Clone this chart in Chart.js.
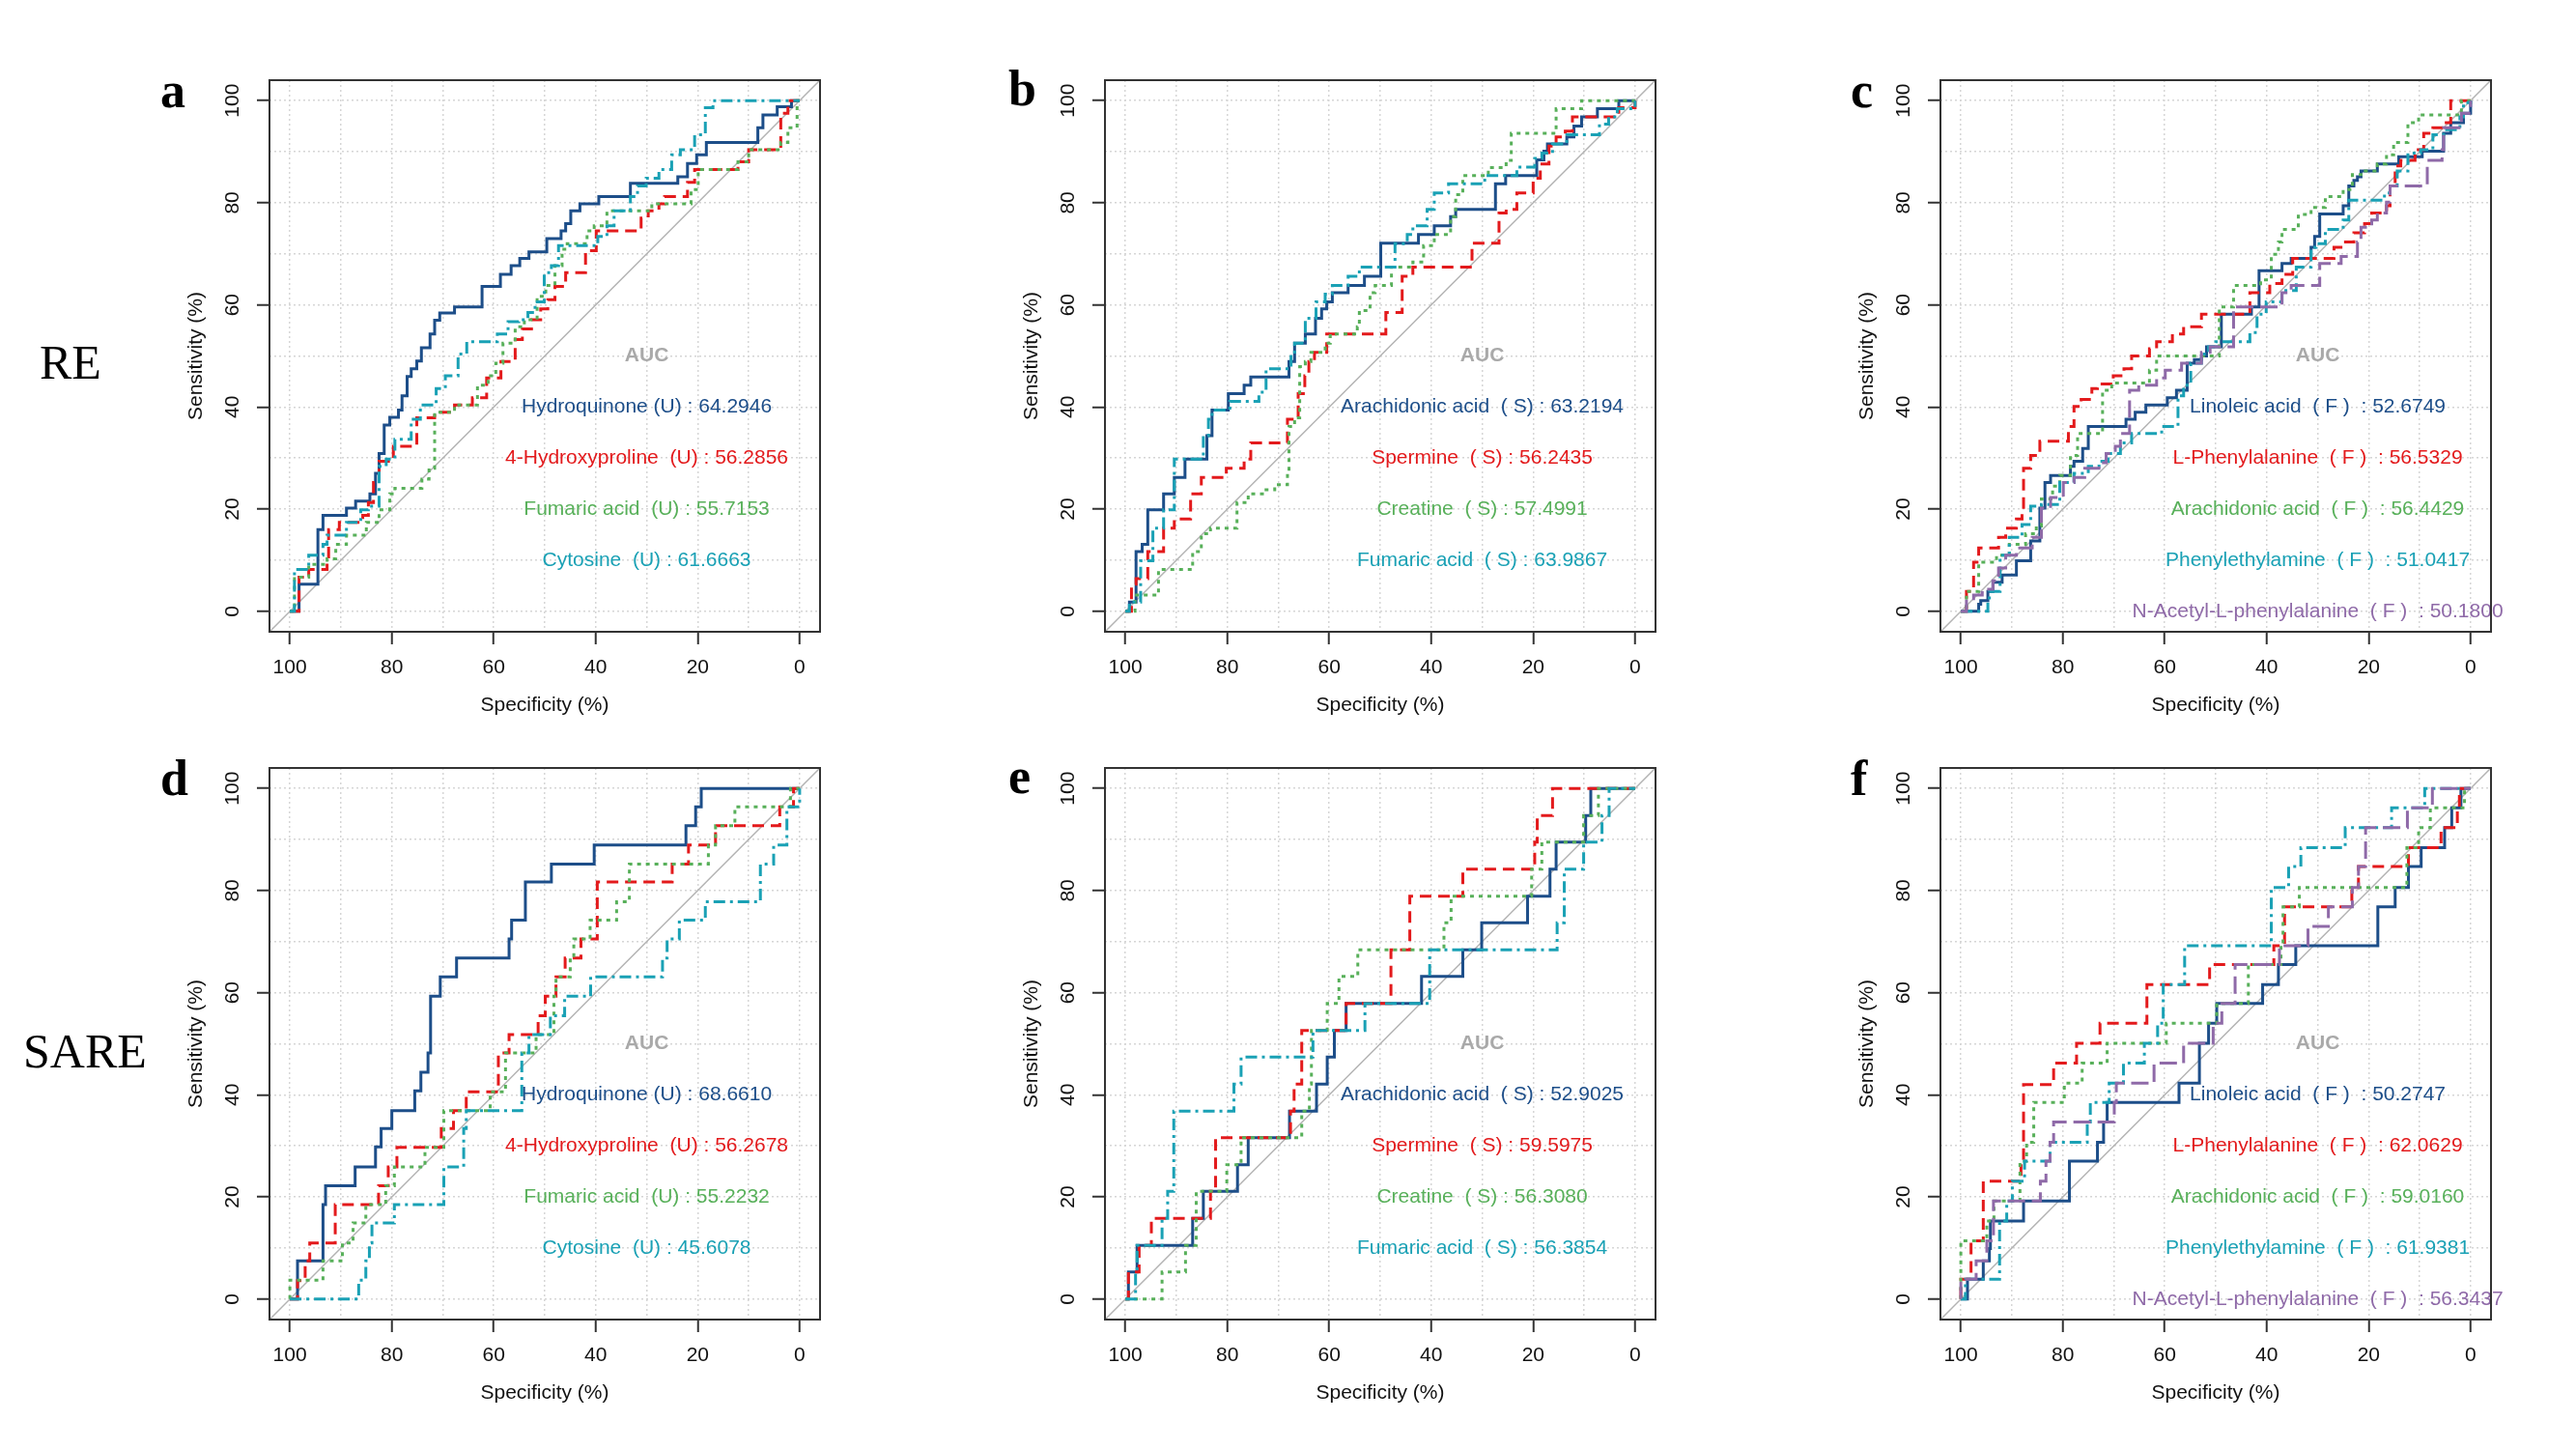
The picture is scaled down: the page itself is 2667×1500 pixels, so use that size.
<!DOCTYPE html>
<html>
<head>
<meta charset="utf-8">
<title>ROC curves</title>
<script src="https://cdn.jsdelivr.net/npm/chart.js@4.4.1/dist/chart.umd.min.js"></script>
<style>
  html, body { margin: 0; padding: 0; background: #fff; }
  #page { position: relative; width: 2667px; height: 1500px; overflow: hidden; background: #fff; }
  #page canvas { position: absolute; }
  .tag { position: absolute; font-family: 'Liberation Serif', 'Times New Roman', serif; line-height: 1; color: #000; white-space: nowrap; }
  .letter { font-weight: bold; font-size: 52px; }
  .row { font-size: 50px; }
</style>
</head>
<body>
<div id="page">
  <div class="tag letter" style="left:166px;top:68px;">a</div>
  <div class="tag letter" style="left:1044px;top:66px;">b</div>
  <div class="tag letter" style="left:1916px;top:68px;">c</div>
  <div class="tag letter" style="left:166px;top:780px;">d</div>
  <div class="tag letter" style="left:1044px;top:778px;">e</div>
  <div class="tag letter" style="left:1916px;top:780px;">f</div>
  <div class="tag row" style="left:41px;top:350px;">RE</div>
  <div class="tag row" style="left:24px;top:1063px;">SARE</div>
  <canvas id="pa" width="770" height="716"></canvas>
  <canvas id="pb" width="770" height="716"></canvas>
  <canvas id="pc" width="770" height="716"></canvas>
  <canvas id="pd" width="770" height="716"></canvas>
  <canvas id="pe" width="770" height="716"></canvas>
  <canvas id="pf" width="770" height="716"></canvas>
</div>
<script>
// axis setup shared by all six ROC panels
const gridValues = [0, 10, 20, 30, 40, 50, 60, 70, 80, 90, 100];
const axisMin = -4;
const axisMax = 104;
const aucX = 30;
const aucRows = [50, 40, 30, 20, 10, 0];

const seriesColors = ['#1d4e89', '#e31a1c', '#58b05a', '#1aa1b5', '#8f6aa8'];
const seriesDash = [[], [12, 7], [4, 5], [12, 5, 3, 5], [18, 7]];

// curves are [specificity, sensitivity] corner points (%)
// a: RE, urine
const aHydroquinone = [[100,0],[98.2,5.3],[94.5,16],[93.5,18.8],[88.9,20.2],[87.1,21.6],[84.3,23],[83.2,27],[82.5,30.9],[81.5,36.5],[80.4,38],[78.7,39.4],[78.0,42.2],[77.0,46],[76.2,47.5],[75.1,49],[74.2,51.6],[72.5,54.3],[71.6,57],[70.6,58.4],[67.7,59.6],[62.3,63.6],[58.7,66],[56.6,67.7],[54.9,69.1],[53.1,70.4],[49.6,73],[46.8,74.5],[45.9,75.9],[44.9,78.4],[43.1,79.8],[39.4,81.2],[33.2,83.8],[23.9,85.1],[22.0,87.7],[20.2,89.4],[18.3,91.8],[8.2,94.7],[7.2,97.2],[4.4,98.8],[1.6,100],[0,100]];
const aHydroxyproline = [[100,0],[98.2,6.7],[96.3,8.2],[92.7,10.3],[92.4,16],[90.3,17.4],[85.7,18.8],[84.6,21.3],[83.6,25.2],[82.5,29.4],[79.7,32.3],[75.1,37.9],[71.6,39],[67.7,40.4],[64.2,41.8],[61.4,45.7],[58.6,48.9],[55.8,53.2],[54.4,55.3],[52.6,57.1],[50.8,59.2],[49.4,61],[48.0,63.6],[45.9,66.3],[42.0,70.6],[39.9,74.5],[31.1,77],[29.7,78.4],[27.6,79.8],[26.5,81.2],[22.0,84],[20.6,86.5],[12.1,88],[10.0,90.4],[3.7,97.5],[2.3,100],[0,100]];
const aFumaric = [[100,0],[99.1,6.7],[96.3,9.2],[92.7,10.3],[91.0,13.1],[88.9,14.9],[85.0,17.4],[82.5,19.9],[80.4,23],[79.4,24.1],[74.1,25.9],[72.7,28],[71.6,39],[67.7,40.4],[63.2,44.3],[61.1,46.1],[59.6,48.6],[58.2,52.5],[55.8,55.7],[54.0,57.1],[51.5,61.7],[49.8,63.8],[48.0,67.7],[46.6,70.9],[45.6,72],[41.7,74.5],[40.3,75.5],[37.8,78.4],[29.0,79.8],[21.3,82.6],[19.9,86.5],[12.1,88],[10.0,90.4],[3.7,91.8],[2.3,94.7],[0.5,100],[0,100]];
const aCytosine = [[100,0],[99.1,8.2],[96.3,11],[93.5,13.1],[92.7,14.9],[88.9,17.4],[86.1,19.9],[84.6,20.6],[82.5,28.4],[81.1,29.8],[79.4,33.7],[76.2,37.6],[74.4,40.4],[71.3,43.6],[69.5,46.1],[67.0,50.4],[65.3,52.8],[59.3,54.3],[57.2,56.7],[55.1,57.1],[53.3,58.5],[51.9,60.6],[50.1,66.3],[48.7,67.7],[47.3,71.6],[39.6,73.4],[37.8,75.5],[36.4,78.4],[33.2,81.2],[31.8,83.3],[30.1,84.8],[27.6,86.5],[25.1,89.4],[23.4,90.4],[20.6,93.3],[18.5,98.6],[17.0,100],[0,100]];
const aLabels = ['Hydroquinone (U) : 64.2946', '4-Hydroxyproline  (U) : 56.2856', 'Fumaric acid  (U) : 55.7153', 'Cytosine  (U) : 61.6663'];

// b: RE, saliva
const bArachidonic = [[100,0],[99.2,1.8],[97.9,11.7],[96.7,13.1],[95.6,19.9],[92.5,23],[90.4,26.2],[88.3,29.8],[84.0,34.4],[83.0,39.4],[79.8,42.6],[76.7,44.3],[75.4,45.9],[67.9,48.9],[66.8,52.5],[64.7,54.3],[62.7,57.4],[61.5,59.2],[60.5,60.6],[59.4,62.4],[56.3,63.8],[53.1,65.6],[49.9,72.1],[42.5,73.8],[39.4,75.5],[36.2,77.3],[35.2,78.7],[27.4,83.7],[25.4,85.3],[19.3,88.4],[17.9,90.1],[17.2,91.5],[13.4,92.9],[12.0,95],[10.5,96.8],[7.4,98.4],[3.2,100],[0,100]];
const bSpermine = [[100,0],[98.8,5.3],[97.9,6.4],[95.6,11.7],[92.5,16.3],[90.4,18.1],[87.2,23],[85.1,26.2],[80.2,28],[76.7,29.8],[75.4,33],[68.2,37.6],[66.1,42.6],[64.8,46.1],[64.0,48.9],[62.9,50.7],[60.5,54.3],[48.9,58.5],[45.7,65.6],[43.6,67.4],[32.0,72.1],[26.7,78],[25.3,78.7],[23.2,81.9],[20.0,84.8],[18.6,87.6],[16.9,91.1],[15.5,92.9],[13.7,94],[12.3,96.8],[3.2,98.6],[0,100]];
const bCreatine = [[100,0],[98.1,3.2],[93.5,8.2],[86.8,11.7],[85.1,15.2],[83.3,16.3],[78.1,21.3],[75.9,23],[72.4,23.8],[70.7,24.8],[68.2,26.6],[67.9,36.2],[66.8,37.9],[65.8,47.9],[64.7,48.9],[63.6,50.7],[60.8,52.5],[59.8,54.3],[54.5,55.7],[54.1,58.9],[52.0,62.4],[51.0,63.8],[47.8,67.4],[43.6,68.4],[41.5,71.6],[39.4,73.8],[36.2,77.3],[35.2,81.6],[33.8,85.3],[28.8,86.9],[25.3,88.3],[24.3,93.6],[15.5,98.4],[10.5,100],[0,100]];
const bFumaric = [[100,0],[99.2,1.8],[97.0,9.9],[94.6,16.3],[92.5,19.9],[90.4,29.8],[84.7,34.4],[83.7,37.6],[83.0,39.4],[79.5,41.1],[73.8,42.9],[72.4,47.5],[67.5,50.4],[66.8,52.5],[64.7,57.4],[62.6,60.6],[60.8,62.1],[59.4,63.8],[56.3,65.6],[54.1,67.4],[47.1,72],[44.7,73.8],[43.6,75.5],[40.8,78.7],[39.4,81.9],[36.6,83.7],[29.5,85.3],[23.2,87],[19.7,88.7],[18.3,89.7],[16.2,91.5],[13.4,93.3],[7.0,95.4],[5.2,96.8],[3.5,98.4],[0,100]];
const bLabels = ['Arachidonic acid  ( S) : 63.2194', 'Spermine  ( S) : 56.2435', 'Creatine  ( S) : 57.4991', 'Fumaric acid  ( S) : 63.9867'];

// c: RE, feces
const cLinoleic = [[100,0],[96.5,1.4],[96.1,2.1],[94.7,3.9],[93.7,5.7],[91.9,7.1],[89.1,9.9],[86.3,13.8],[84.5,20.2],[83.5,25.2],[82.4,26.6],[78.5,28.4],[77.8,29.4],[76.1,31.9],[75.0,36.2],[67.6,37.6],[65.8,39],[63.7,40.4],[59.5,41.8],[57.7,43.3],[55.6,48.6],[54.2,49.3],[52.8,50],[51.8,51.8],[48.9,58.2],[43.0,59.6],[41.5,66.7],[37.0,68.1],[35.2,69.1],[31.3,71.3],[30.6,73.4],[29.6,77.8],[25.0,79.4],[23.9,83.3],[22.9,84.4],[22.2,85.1],[21.5,86.2],[18.3,87.6],[14.1,89],[9.5,90.1],[5.3,93.6],[3.9,95.7],[1.4,97.5],[0,100]];
const cPhenylalanine = [[100,0],[98.9,3.9],[97.5,9.6],[96.5,12.4],[92.6,14.5],[91.2,16.3],[89.1,18.1],[88.0,19.9],[87.7,28],[86.3,30.5],[84.5,33.3],[78.9,36.2],[77.8,40.1],[76.4,41.5],[74.3,43.6],[73.2,44.5],[70.1,46.1],[68.0,47.5],[66.5,50],[63.0,51.4],[61.6,52.8],[58.5,54.3],[56.3,55.7],[52.8,58.2],[43.3,62.4],[39.4,64.2],[37.0,66],[34.9,69.1],[26.8,71.3],[25.0,72.3],[22.9,74.1],[20.8,75.9],[19.4,78],[16.5,79.4],[15.8,83.3],[14.8,87.2],[13.7,88.3],[10.9,90.4],[9.2,93.6],[7.4,94.7],[5.3,95.7],[3.9,100],[0,100]];
const cArachidonic = [[100,0],[98.9,3.9],[96.5,9.6],[93.0,11],[90.5,13.1],[87.3,15.2],[85.2,16.7],[84.2,22],[82.0,24.5],[80.6,26.6],[78.5,30.5],[77.1,34.8],[72.2,43.3],[70.4,44.7],[63.0,47.2],[61.6,50],[49.3,59.6],[46.5,63.8],[41.2,64.9],[39.1,69.9],[37.7,72.3],[37.0,74.8],[33.8,77.7],[31.3,79.1],[28.5,81.2],[25.0,82.6],[23.2,85.5],[21.5,86.2],[18.3,87.6],[16.5,89.4],[15.1,91.8],[12.3,95.7],[10.2,97.2],[1.8,100],[0,100]];
const cPhenylethylamine = [[100,0],[94.7,1.8],[94.4,3.9],[92.3,11],[90.5,14.5],[88.0,17],[86.3,20.6],[84.2,20.9],[80.6,25.2],[77.8,27],[75.0,28.4],[72.9,29.4],[71.1,30.9],[68.7,33],[66.5,34.8],[60.6,36.2],[57.4,42.2],[56.3,44.3],[54.9,48.6],[52.8,50.4],[51.4,51.8],[50.0,52.8],[43.3,54.6],[41.9,58.2],[40.1,60.6],[37.0,62.8],[34.2,67.4],[31.3,71.3],[30.3,72],[28.5,74.8],[25.0,76.6],[23.9,80.5],[16.9,81.9],[15.8,83.3],[14.4,86.2],[12.3,89.7],[9.8,90.4],[7.4,93.3],[5.3,94.3],[2.1,96.8],[1.4,99.6],[0,100]];
const cAcetylPhenylalanine = [[100,0],[98.9,2.5],[97.5,3.2],[95.8,4.3],[93.7,6],[92.6,8.5],[91.2,11],[89.1,12.4],[86.0,14.5],[84.2,20.2],[82.4,22.3],[79.9,25.2],[77.8,26.2],[75.7,28],[72.9,29.1],[71.5,30.9],[69.7,32.3],[68.7,34.8],[66.9,43.3],[65.1,44.3],[61.6,45.7],[59.9,47.2],[56.7,48.6],[52.8,50.7],[51.1,51.8],[46.5,59.6],[37.0,62.4],[35.2,63.8],[29.6,68.1],[25.4,69.5],[22.2,72.3],[21.5,75.2],[19.4,76.6],[18.3,78],[16.5,80.1],[15.8,83.3],[8.5,88.3],[5.6,90.4],[5.3,94.7],[1.8,97.5],[0,100]];
const cLabels = ['Linoleic acid  ( F )  : 52.6749', 'L-Phenylalanine  ( F )  : 56.5329', 'Arachidonic acid  ( F )  : 56.4429', 'Phenylethylamine  ( F )  : 51.0417', 'N-Acetyl-L-phenylalanine  ( F )  : 50.1800'];

// d: SARE, urine
const dHydroquinone = [[100,0],[98.5,7.5],[93.5,18.5],[93.0,22.2],[87.2,25.9],[83.2,29.8],[82.1,33.4],[80.0,36.9],[75.5,40.8],[74.3,44.4],[72.9,48.2],[72.4,59.3],[70.5,63.1],[67.3,66.8],[57.0,70.5],[56.5,74.2],[53.8,81.7],[48.7,85.2],[40.3,88.9],[22.3,92.7],[20.4,96.4],[19.3,100],[0,100]];
const dHydroxyproline = [[100,0],[98.5,3.6],[97.0,7.5],[96.1,11],[91.1,18.5],[82.6,22.2],[80.7,25.9],[79.0,29.7],[70.3,33.4],[67.9,36.9],[65.4,40.6],[59.1,48.2],[57.0,51.8],[51.3,55.5],[49.9,59.3],[47.8,63.1],[46.0,66.8],[42.9,70.5],[39.7,81.7],[25.0,85.2],[21.8,88.9],[16.5,92.7],[3.9,96.4],[1.2,100],[0,100]];
const dFumaric = [[100,0],[100,3.7],[93.5,7.5],[89.7,11],[87.6,14.9],[85.1,18.5],[81.2,22.2],[79.5,25.9],[73.5,29.7],[69.8,36.9],[60.7,40.6],[57.7,48.2],[51.7,51.8],[48.2,59.3],[47.8,63.1],[45.0,66.8],[44.3,70.5],[41.1,74.2],[35.9,77.8],[33.4,85.2],[17.9,88.9],[16.5,92.7],[12.7,96.4],[1.8,100],[0,100]];
const dCytosine = [[100,0],[86.5,3.7],[85.1,7.5],[84.4,11],[83.9,14.9],[79.5,18.5],[69.8,25.9],[65.9,33.4],[65.4,36.9],[54.5,48.2],[53.1,51.8],[48.9,55.5],[46.1,59.3],[41.0,63.1],[26.9,66.8],[26.0,70.5],[23.6,74.2],[18.5,77.8],[7.7,85.2],[5.1,88.9],[2.5,96.4],[0,100]];
const dLabels = ['Hydroquinone (U) : 68.6610', '4-Hydroxyproline  (U) : 56.2678', 'Fumaric acid  (U) : 55.2232', 'Cytosine  (U) : 45.6078'];

// e: SARE, saliva
const eArachidonic = [[100,0],[99.4,5.3],[97.7,10.5],[86.8,15.8],[84.7,21.1],[78.0,26.3],[75.9,31.6],[67.8,36.8],[62.5,42.1],[60.4,47.4],[59.0,52.6],[56.7,57.9],[41.9,63.2],[33.8,68.4],[30.1,73.7],[21.1,78.9],[16.7,84.2],[15.5,89.5],[9.7,94.7],[8.7,100],[0,100]];
const eSpermine = [[100,0],[99.4,5.3],[97.3,10.5],[94.9,15.8],[83.3,21.1],[82.3,31.6],[67.6,36.8],[66.9,42.1],[65.4,52.6],[56.7,57.9],[47.9,68.4],[44.2,78.9],[33.8,84.2],[19.7,89.5],[19.2,94.7],[16.2,100],[0,100]];
const eCreatine = [[100,0],[92.8,5.3],[88.2,10.5],[86.1,21.1],[80.1,26.3],[77.3,31.6],[65.4,36.8],[63.9,42.1],[63.5,52.6],[60.4,57.9],[58.1,63.2],[54.4,68.4],[37.5,73.7],[36.1,78.9],[20.3,84.2],[18.3,89.5],[10.1,94.7],[7.2,100],[0,100]];
const eFumaric = [[100,0],[98.0,5.3],[97.7,10.5],[92.8,15.8],[91.7,21.1],[90.5,36.8],[78.7,42.1],[77.3,47.4],[63.2,52.6],[53.0,57.9],[40.3,68.4],[15.3,73.7],[13.9,84.2],[10.1,89.5],[6.5,94.7],[5.1,100],[0,100]];
const eLabels = ['Arachidonic acid  ( S) : 52.9025', 'Spermine  ( S) : 59.5975', 'Creatine  ( S) : 56.3080', 'Fumaric acid  ( S) : 56.3854'];

// f: SARE, feces
const fLinoleic = [[100,0],[98.7,3.9],[95.6,7.5],[94.4,9.9],[94.2,15.3],[87.7,19.2],[78.7,27],[73.2,30.7],[72.0,34.7],[71.3,38.5],[57.2,42.3],[53.2,50.1],[51.4,54],[49.8,57.9],[40.8,61.6],[37.7,65.5],[34.3,69.2],[18.2,76.8],[14.8,80.6],[12.2,84.7],[9.7,88.4],[5.1,92.3],[3.7,96.2],[1.9,100],[0,100]];
const fPhenylalanine = [[100,0],[100,3.9],[98.0,11.4],[95.6,23.1],[88.2,27],[87.7,42],[81.8,46.2],[77.3,50.1],[72.7,54],[63.5,61.6],[51.2,65.5],[38.6,69.2],[36.5,76.8],[23.3,80.6],[22.0,84.7],[12.2,88.4],[5.8,92.3],[2.6,96.2],[2.2,100],[0,100]];
const fArachidonic = [[100,0],[100,11.4],[94.9,15.3],[93.5,19.2],[88.4,27],[87.1,30.7],[85.7,38.5],[79.7,42.3],[76.2,46.2],[71.3,50.1],[59.7,54],[49.8,57.9],[43.6,65.5],[37.2,69.2],[36.8,76.8],[33.6,80.6],[12.5,88.4],[10.2,92.3],[7.9,96.2],[1.2,100],[0,100]];
const fPhenylethylamine = [[100,0],[99.1,3.9],[92.4,15.3],[91.0,19.2],[89.9,23.1],[87.5,27],[82.5,30.7],[75.2,34.7],[74.6,38.5],[70.9,42.3],[68.1,46.2],[64.0,50.1],[61.4,54],[60.3,61.6],[56.1,69.2],[39.1,80.6],[35.7,84.7],[33.3,88.4],[24.6,92.3],[15.5,96.2],[9.0,100],[0,100]];
const fAcetylPhenylalanine = [[100,0],[100,3.9],[97.0,7.5],[94.9,11.4],[93.6,19.2],[84.4,23.1],[83.3,27],[82.5,30.7],[81.8,34.7],[69.9,38.5],[69.5,42.3],[62.1,46.2],[56.3,50.1],[50.5,54],[48.8,57.9],[46.2,65.5],[37.5,69.2],[31.9,73],[27.9,76.8],[23.2,80.6],[22.0,84.7],[20.6,92.3],[12.4,96.2],[7.5,100],[0,100]];
const fLabels = ['Linoleic acid  ( F )  : 50.2747', 'L-Phenylalanine  ( F )  : 62.0629', 'Arachidonic acid  ( F )  : 59.0160', 'Phenylethylamine  ( F )  : 61.9381', 'N-Acetyl-L-phenylalanine  ( F )  : 56.3437'];

// where each plot box sits on the page
const panels = [
  { canvas: 'pa', boxLeft: 279, boxTop: 83, curves: [aHydroquinone, aHydroxyproline, aFumaric, aCytosine], labels: aLabels },
  { canvas: 'pb', boxLeft: 1144, boxTop: 83, curves: [bArachidonic, bSpermine, bCreatine, bFumaric], labels: bLabels },
  { canvas: 'pc', boxLeft: 2009, boxTop: 83, curves: [cLinoleic, cPhenylalanine, cArachidonic, cPhenylethylamine, cAcetylPhenylalanine], labels: cLabels },
  { canvas: 'pd', boxLeft: 279, boxTop: 795, curves: [dHydroquinone, dHydroxyproline, dFumaric, dCytosine], labels: dLabels },
  { canvas: 'pe', boxLeft: 1144, boxTop: 795, curves: [eArachidonic, eSpermine, eCreatine, eFumaric], labels: eLabels },
  { canvas: 'pf', boxLeft: 2009, boxTop: 795, curves: [fLinoleic, fPhenylalanine, fArachidonic, fPhenylethylamine, fAcetylPhenylalanine], labels: fLabels }
];

const SANS = "'Liberation Sans', Arial, Helvetica, sans-serif";
const Y_AXIS_W = 130;
const X_AXIS_H = 125;
const PAD_TOP = 20;

// box, rotated y labels and the AUC block
const rocDecor = {
  id: 'rocDecor',
  afterDatasetsDraw(chart, args, opts) {
    const { ctx, scales: { x, y } } = chart;
    const cx = x.getPixelForValue(aucX);
    ctx.save();
    ctx.textAlign = 'center';
    ctx.textBaseline = 'middle';
    ctx.font = 'bold 21px ' + SANS;
    ctx.fillStyle = '#a9a9a9';
    ctx.fillText('AUC', cx, y.getPixelForValue(aucRows[0]));
    ctx.font = '21px ' + SANS;
    opts.labels.forEach((t, i) => {
      ctx.fillStyle = seriesColors[i];
      ctx.fillText(t, cx, y.getPixelForValue(aucRows[i + 1]));
    });
    ctx.restore();
  },
  afterDraw(chart) {
    const { ctx, chartArea: a, scales: { y } } = chart;
    ctx.save();
    ctx.strokeStyle = '#333';
    ctx.lineWidth = 2;
    ctx.setLineDash([]);
    ctx.strokeRect(a.left, a.top, a.right - a.left, a.bottom - a.top);
    ctx.fillStyle = '#111';
    ctx.font = '21px ' + SANS;
    ctx.textAlign = 'center';
    ctx.textBaseline = 'middle';
    gridValues.filter(v => v % 20 === 0).forEach(v => {
      ctx.save();
      ctx.translate(a.left - 38, y.getPixelForValue(v));
      ctx.rotate(-Math.PI / 2);
      ctx.fillText(String(v), 0, 0);
      ctx.restore();
    });
    ctx.restore();
  }
};

function axisOptions(isX) {
  return {
    type: 'linear',
    reverse: isX,
    min: axisMin,
    max: axisMax,
    afterBuildTicks: s => { s.ticks = gridValues.map(v => ({ value: v })); },
    afterFit: s => { if (isX) s.height = X_AXIS_H; else s.width = Y_AXIS_W; },
    grid: {
      color: '#d6d6d6',
      lineWidth: 1.5,
      drawTicks: true,
      tickLength: 13,
      tickWidth: 2,
      tickBorderDash: [],
      tickColor: c => (c.tick && c.tick.value % 20 === 0) ? '#333' : 'rgba(0,0,0,0)'
    },
    border: { display: false, dash: [2, 3] },
    ticks: {
      display: isX,
      autoSkip: false,
      maxRotation: 0,
      padding: 12,
      color: '#111',
      font: { family: SANS, size: 21 },
      callback: v => (v % 20 === 0 ? String(v) : '')
    },
    title: {
      display: true,
      text: isX ? 'Specificity (%)' : 'Sensitivity (%)',
      color: '#111',
      font: { family: SANS, size: 21 },
      padding: isX ? { top: 0, bottom: 36 } : { top: 42, bottom: 0 }
    }
  };
}

panels.forEach(p => {
  const el = document.getElementById(p.canvas);
  el.style.left = (p.boxLeft - Y_AXIS_W) + 'px';
  el.style.top = (p.boxTop - PAD_TOP) + 'px';

  const datasets = p.curves.map((curve, i) => ({
    data: curve.map(pt => ({ x: pt[0], y: pt[1] })),
    borderColor: seriesColors[i],
    borderDash: seriesDash[i],
    borderWidth: 3,
    borderCapStyle: 'butt',
    borderJoinStyle: 'miter',
    stepped: true,
    pointRadius: 0,
    fill: false,
    order: 10 - i
  }));
  // chance line corner to corner
  datasets.push({
    data: [{ x: axisMax, y: axisMin }, { x: axisMin, y: axisMax }],
    borderColor: '#b3b3b3',
    borderWidth: 1.5,
    pointRadius: 0,
    fill: false,
    order: 20
  });

  // eslint-disable-next-line no-undef
  new Chart(el, {
    type: 'line',
    data: { datasets },
    options: {
      responsive: false,
      animation: false,
      devicePixelRatio: 1,
      layout: { padding: { left: 0, top: PAD_TOP, right: 70, bottom: 0 } },
      plugins: {
        legend: { display: false },
        tooltip: { enabled: false },
        rocDecor: { labels: p.labels }
      },
      scales: { x: axisOptions(true), y: axisOptions(false) }
    },
    plugins: [rocDecor]
  });
});
</script>
</body>
</html>
